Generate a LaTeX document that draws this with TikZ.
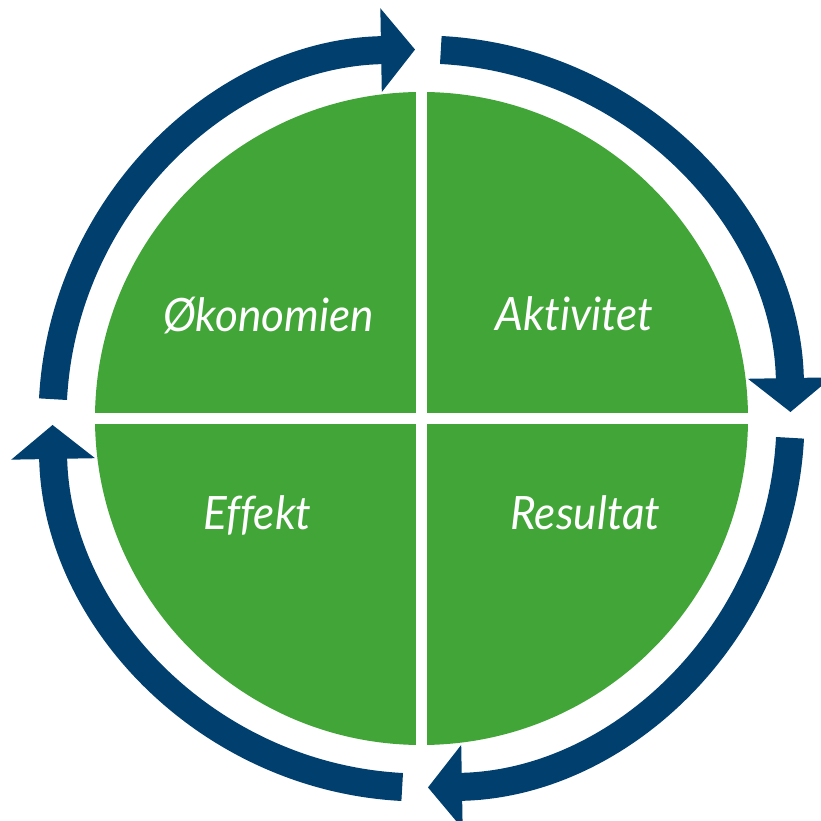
\documentclass[tikz,border=0pt]{standalone}
\usepackage{fontspec}
\setmainfont[Ligatures=NoCommon]{Lato}
\usetikzlibrary{arrows.meta}

\definecolor{kvgreen}{RGB}{65,165,55}
\definecolor{kvblue}{RGB}{0,63,110}

\tikzset{
  quarter/.style={fill=kvgreen},
  gap/.style={draw=white,line width=10.5pt},
  cyclearrow/.style={draw=kvblue,line width=28pt,-{Triangle[length=34pt,width=82pt]}},
  quartertext/.style={text=white,anchor=base,inner sep=0pt,xscale=0.96,transform shape,
    font=\fontsize{46}{46}\selectfont\itshape}
}

\begin{document}
\begin{tikzpicture}[x=1pt,y=1pt]
  \useasboundingbox (0,0) rectangle (820,821);

  \coordinate (c) at (421.5,402.5);

  % green disc split in four
  \fill[quarter] (c) circle [radius=326.5];
  \draw[gap] (c) ++(0,-335) -- ++(0,670);
  \draw[gap] (c) ++(-335,0) -- ++(670,0);

  % arrows round the disc
  \foreach \a in {90,0,-90,-180}
    \draw[cyclearrow] (c) ++(\a-3:369) arc [start angle=\a-3, end angle=\a-89, radius=369];

  \node[quartertext] (okonomi) at (268.5,489) {Økonomien};
  \node[quartertext] (aktivitet) at (574.5,490) {Aktivitet};
  \node[quartertext] (effekt) at (257.5,291) {Effekt};
  \node[quartertext] (resultat) at (585.5,291) {Resultat};

\end{tikzpicture}
\end{document}
